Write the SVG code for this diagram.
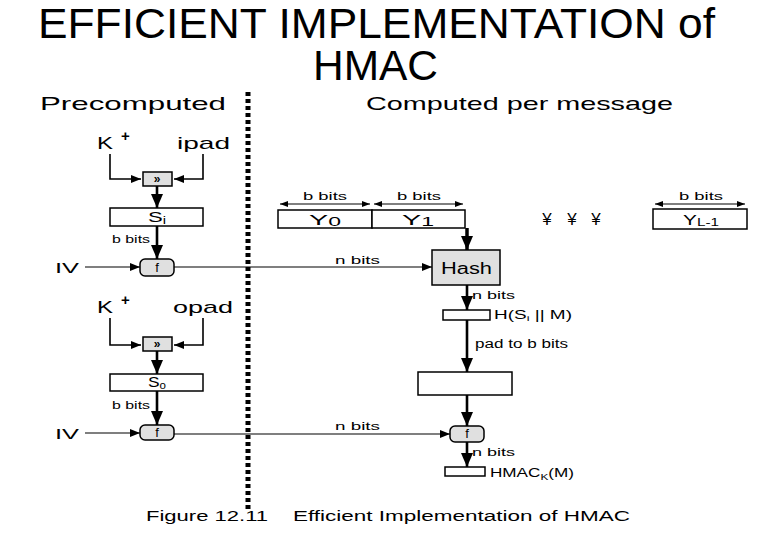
<svg xmlns="http://www.w3.org/2000/svg" width="780" height="540" viewBox="0 0 780 540">
<style>
text{font-family:"Liberation Sans",Arial,sans-serif;fill:#000}
.box{fill:#fff;stroke:#000;stroke-width:1.5}
.gbox{fill:#e0e0e0;stroke:#000;stroke-width:1.5}
.thin{fill:none;stroke:#000;stroke-width:1.2}
.mid{fill:none;stroke:#000;stroke-width:1.6}
.thick{fill:none;stroke:#000;stroke-width:2.6}
.lbl{font-size:11px}
.big{font-size:17px}
</style>
<defs>
<marker id="a" markerUnits="userSpaceOnUse" markerWidth="10" markerHeight="8" refX="10" refY="4" orient="auto"><path d="M0,0 L10,4 L0,8 z"/></marker>
<marker id="d" markerUnits="userSpaceOnUse" markerWidth="8" markerHeight="6" refX="8" refY="3" orient="auto-start-reverse"><path d="M0,0 L8,3 L0,6 z"/></marker>
<marker id="t" markerUnits="userSpaceOnUse" markerWidth="14" markerHeight="12" refX="14" refY="6" orient="auto"><path d="M0,0 L14,6 L0,12 z"/></marker>
</defs>
<g id="title">
<text x="38" y="38" font-size="42" textLength="677" lengthAdjust="spacingAndGlyphs">EFFICIENT IMPLEMENTATION of</text>
<text x="313" y="80" font-size="42" textLength="125" lengthAdjust="spacingAndGlyphs">HMAC</text>
</g>
<g id="headers">
<text x="40" y="110" font-size="19" textLength="186" lengthAdjust="spacingAndGlyphs">Precomputed</text>
<text x="366" y="110" font-size="19" textLength="307" lengthAdjust="spacingAndGlyphs">Computed per message</text>
</g>
<line id="divider" x1="248" y1="92" x2="248" y2="512" stroke="#000" stroke-width="5" stroke-dasharray="4 3"/>
<g id="connectors">
<path class="mid" d="M110,154 V179 H141" marker-end="url(#a)"/>
<path class="mid" d="M203,154 V179 H174" marker-end="url(#a)"/>
<path class="thick" d="M157,186 V208" marker-end="url(#t)"/>
<path class="thick" d="M157,226 V259" marker-end="url(#t)"/>
<path class="thin" d="M85,267 H140" marker-end="url(#a)"/>
<path class="thin" d="M174,267 H432" marker-end="url(#a)"/>
<path class="thin" d="M280,204 H370" marker-start="url(#d)" marker-end="url(#d)"/>
<path class="thin" d="M374,204 H463" marker-start="url(#d)" marker-end="url(#d)"/>
<path class="thin" d="M655,204 H745" marker-start="url(#d)" marker-end="url(#d)"/>
<path fill="none" stroke="#000" stroke-width="3.5" d="M467,228 V250" marker-end="url(#t)"/>
<path class="thick" d="M467,285 V310" marker-end="url(#t)"/>
<path class="thick" d="M467,320 V372" marker-end="url(#t)"/>
<path class="thick" d="M467,395 V426" marker-end="url(#t)"/>
<path class="thick" d="M467,442 V467" marker-end="url(#t)"/>
<path class="mid" d="M110,318 V345 H141" marker-end="url(#a)"/>
<path class="mid" d="M203,318 V345 H174" marker-end="url(#a)"/>
<path class="thick" d="M157,351 V374" marker-end="url(#t)"/>
<path class="thick" d="M157,391 V425" marker-end="url(#t)"/>
<path class="thin" d="M85,433 H140" marker-end="url(#a)"/>
<path class="thin" d="M174,434 H450" marker-end="url(#a)"/>
</g>
<g id="labels">
<text x="97" y="149" class="big" textLength="16" lengthAdjust="spacingAndGlyphs">K</text><text x="121" y="141" font-size="15" font-weight="bold">+</text>
<text x="177" y="149" class="big" textLength="53" lengthAdjust="spacingAndGlyphs">ipad</text>
<text x="112" y="243" class="lbl" textLength="38" lengthAdjust="spacingAndGlyphs">b bits</text>
<text x="55" y="273" font-size="15" textLength="24" lengthAdjust="spacingAndGlyphs">IV</text>
<text x="335" y="264" class="lbl" textLength="45" lengthAdjust="spacingAndGlyphs">n bits</text>
<text x="303" y="200" class="lbl" textLength="44" lengthAdjust="spacingAndGlyphs">b bits</text>
<text x="397" y="200" class="lbl" textLength="44" lengthAdjust="spacingAndGlyphs">b bits</text>
<text x="679" y="200" class="lbl" textLength="44" lengthAdjust="spacingAndGlyphs">b bits</text>
<text x="547" y="225" font-size="17" text-anchor="middle">¥</text>
<text x="572" y="225" font-size="17" text-anchor="middle">¥</text>
<text x="596" y="225" font-size="17" text-anchor="middle">¥</text>
<text x="472" y="299" class="lbl" textLength="43" lengthAdjust="spacingAndGlyphs">n bits</text>
<text x="494" y="319" font-size="12" textLength="78" lengthAdjust="spacingAndGlyphs">H(S<tspan font-size="8" dy="2">i</tspan><tspan dy="-2"> || M)</tspan></text>
<text x="475" y="348" font-size="12" textLength="93" lengthAdjust="spacingAndGlyphs">pad to b bits</text>
<text x="472" y="456" class="lbl" textLength="43" lengthAdjust="spacingAndGlyphs">n bits</text>
<text x="490" y="477" font-size="13" textLength="84" lengthAdjust="spacingAndGlyphs">HMAC<tspan font-size="9" dy="3">K</tspan><tspan dy="-3">(M)</tspan></text>
<text x="97" y="313" class="big" textLength="16" lengthAdjust="spacingAndGlyphs">K</text><text x="121" y="305" font-size="15" font-weight="bold">+</text>
<text x="173" y="313" class="big" textLength="60" lengthAdjust="spacingAndGlyphs">opad</text>
<text x="112" y="409" class="lbl" textLength="38" lengthAdjust="spacingAndGlyphs">b bits</text>
<text x="55" y="439" font-size="15" textLength="24" lengthAdjust="spacingAndGlyphs">IV</text>
<text x="335" y="430" class="lbl" textLength="45" lengthAdjust="spacingAndGlyphs">n bits</text>
</g>
<g id="xor1"><rect class="gbox" x="143" y="172" width="29" height="14"/><text x="157" y="183" font-size="12" font-weight="bold" text-anchor="middle">»</text></g>
<g id="si"><rect class="box" x="110" y="208" width="93" height="18"/><text x="148" y="222" font-size="15" textLength="18" lengthAdjust="spacingAndGlyphs">S<tspan font-size="10" dy="2">i</tspan></text></g>
<g id="f1"><rect class="gbox" x="140" y="259" width="34" height="17" rx="5"/><text x="157" y="272" font-size="13" text-anchor="middle">f</text></g>
<g id="y0"><rect class="box" x="278" y="210" width="94" height="18"/><text x="309" y="225" font-size="15" textLength="32" lengthAdjust="spacingAndGlyphs">Y<tspan font-size="12" dy="1">0</tspan></text></g>
<g id="y1"><rect class="box" x="372" y="210" width="93" height="18"/><text x="402" y="225" font-size="15" textLength="32" lengthAdjust="spacingAndGlyphs">Y<tspan font-size="12" dy="1">1</tspan></text></g>
<g id="yl"><rect class="box" x="653" y="209" width="94" height="20"/><text x="683" y="225" font-size="15" textLength="36" lengthAdjust="spacingAndGlyphs">Y<tspan font-size="11" dy="1">L-1</tspan></text></g>
<g id="hash"><rect class="gbox" x="432" y="250" width="68" height="35" stroke-width="2"/><text x="441" y="274" font-size="16" textLength="51" lengthAdjust="spacingAndGlyphs">Hash</text></g>
<g id="inner"><rect class="box" x="443" y="310" width="47" height="10"/></g>
<g id="padded"><rect class="box" x="418" y="372" width="94" height="23"/></g>
<g id="f3"><rect class="gbox" x="450" y="426" width="34" height="16" rx="5"/><text x="467" y="438" font-size="13" text-anchor="middle">f</text></g>
<g id="hmac"><rect class="box" x="445" y="467" width="40" height="9"/></g>
<g id="xor2"><rect class="gbox" x="143" y="337" width="29" height="14"/><text x="157" y="348" font-size="12" font-weight="bold" text-anchor="middle">»</text></g>
<g id="so"><rect class="box" x="110" y="374" width="93" height="17"/><text x="148" y="387" font-size="15" textLength="18" lengthAdjust="spacingAndGlyphs">S<tspan font-size="10" dy="2">o</tspan></text></g>
<g id="f2"><rect class="gbox" x="140" y="425" width="34" height="15" rx="5"/><text x="157" y="437" font-size="13" text-anchor="middle">f</text></g>
<g id="caption">
<text x="146" y="521" font-size="14" textLength="122" lengthAdjust="spacingAndGlyphs">Figure 12.11</text>
<text x="293" y="521" font-size="14" textLength="337" lengthAdjust="spacingAndGlyphs">Efficient Implementation of HMAC</text>
</g>
</svg>
